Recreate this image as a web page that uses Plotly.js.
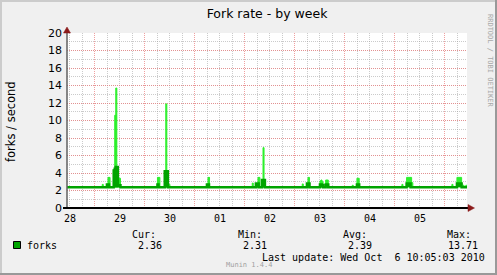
<!DOCTYPE html>
<html>
<head>
<meta charset="utf-8">
<script src="https://cdn.plot.ly/plotly-3.0.1.min.js"></script>
<style>html,body{margin:0;padding:0;background:#f0f0f0;}#chart{width:497px;height:275px;}</style>
</head>
<body>
<div id="chart"></div>
<script>
// ---- data ----
const rangeStart = '2010-09-28 10:35';
const rangeEnd = '2010-10-06 10:35';
const baseline = 2.36;
const spikeStart = [
  '2010-09-29 03:30','2010-09-29 05:45','2010-09-29 06:15','2010-09-29 06:45',
  '2010-09-29 09:00','2010-09-29 09:30','2010-09-29 10:00','2010-09-29 10:30','2010-09-29 11:00',
  '2010-09-30 06:00','2010-09-30 06:30',
  '2010-09-30 09:30','2010-09-30 10:00','2010-09-30 10:30','2010-09-30 11:00',
  '2010-10-01 05:45','2010-10-01 06:15','2010-10-01 06:45',
  '2010-10-02 03:30','2010-10-02 05:15','2010-10-02 06:15','2010-10-02 06:35',
  '2010-10-02 08:10','2010-10-02 08:40','2010-10-02 09:10',
  '2010-10-03 03:30','2010-10-03 05:45','2010-10-03 06:15',
  '2010-10-03 12:00','2010-10-03 12:30','2010-10-03 13:00','2010-10-03 14:45',
  '2010-10-04 03:30','2010-10-04 05:45',
  '2010-10-05 03:20','2010-10-05 05:35','2010-10-05 07:30','2010-10-05 08:10',
  '2010-10-06 03:20','2010-10-06 05:45','2010-10-06 08:40','2010-10-06 10:00'
];
const spikeEnd = [
  '2010-09-29 04:00','2010-09-29 06:15','2010-09-29 06:45','2010-09-29 07:15',
  '2010-09-29 09:30','2010-09-29 10:00','2010-09-29 10:30','2010-09-29 11:00','2010-09-29 12:15',
  '2010-09-30 06:30','2010-09-30 07:10',
  '2010-09-30 10:00','2010-09-30 10:30','2010-09-30 11:00','2010-09-30 12:00',
  '2010-10-01 06:15','2010-10-01 06:45','2010-10-01 07:00',
  '2010-10-02 04:00','2010-10-02 06:15','2010-10-02 06:35','2010-10-02 07:10',
  '2010-10-02 08:40','2010-10-02 09:10','2010-10-02 09:35',
  '2010-10-03 04:00','2010-10-03 06:15','2010-10-03 07:00',
  '2010-10-03 12:30','2010-10-03 13:00','2010-10-03 13:30','2010-10-03 16:00',
  '2010-10-04 04:00','2010-10-04 06:50',
  '2010-10-05 03:50','2010-10-05 07:30','2010-10-05 08:00','2010-10-05 08:35',
  '2010-10-06 03:50','2010-10-06 08:00','2010-10-06 09:10','2010-10-06 10:30'
];
const spikeMax = [
  2.7, 2.7, 3.5, 3.5,
  4.4, 10.6, 13.71, 4.7, 3.4,
  3.5, 3.5,
  4.2, 11.9, 4.2, 2.7,
  2.7, 3.5, 3.5,
  2.85, 2.8, 3.5, 3.5,
  3.2, 6.9, 3.2,
  2.75, 2.8, 3.5,
  3.1, 3.2, 3.0, 3.2,
  2.6, 3.4,
  2.7, 3.5, 3.5, 2.9,
  2.7, 3.5, 2.6, 2.6
];
const spikeAvg = [
  2.36, 2.7, 2.7, 2.36,
  4.3, 4.5, 4.7, 4.7, 2.6,
  2.7, 2.36,
  4.2, 4.2, 4.2, 2.36,
  2.7, 2.7, 2.36,
  2.36, 2.8, 2.8, 2.36,
  3.2, 3.2, 3.2,
  2.36, 2.8, 2.8,
  2.7, 2.7, 2.6, 2.7,
  2.36, 2.7,
  2.36, 2.8, 2.36, 2.36,
  2.36, 2.8, 2.36, 2.36
];
const xTickFormat = '%d';
const yTicks = [0,2,4,6,8,10,12,14,16,18,20];
const legendName = 'forks';
const legendHeads = ['Cur:','Min:','Avg:','Max:'];
const legendValues = ['2.36','2.31','2.39','13.71'];
const titleText = 'Fork rate - by week';
const yTitleText = 'forks / second';
const lastUpdate = 'Last update: Wed Oct \u00a06 10:05:03 2010';
const footerText = 'Munin 1.4.4';
const watermarkText = 'RRDTOOL / TOBI OETIKER';

// ---- build step series ----
function buildStep(vals) {
  const xs = [rangeStart], ys = [baseline];
  for (let i = 0; i < spikeStart.length; i++) {
    xs.push(spikeStart[i]); ys.push(vals[i]);
    xs.push(spikeEnd[i]); ys.push(baseline);
  }
  xs.push(rangeEnd); ys.push(baseline);
  return {xs, ys};
}
const mx = buildStep(spikeMax);
const av = buildStep(spikeAvg);

const DARK = '#00a400';
const BRIGHT = '#2cf02c';

const traces = [
  {x: mx.xs, y: mx.ys, type: 'scatter', mode: 'lines', line: {shape: 'hv', width: 1, color: BRIGHT},
   fill: 'toself', fillcolor: BRIGHT, hoverinfo: 'skip', showlegend: false},
  {x: av.xs, y: av.ys, type: 'scatter', mode: 'lines', line: {shape: 'hv', width: 2.5, color: DARK},
   fill: 'toself', fillcolor: DARK, hoverinfo: 'skip', showlegend: false}
];

// pixel helpers (plot area: x 67..467, y 33..208)
const L = 67, R = 467, T = 33, B = 208;
const PX = p => (p - L) / (R - L);
const PY = p => (B - p) / (B - T);

const mono = 'DejaVu Sans Mono';
const sans = 'DejaVu Sans';
const annotations = [];
function txt(text, x, y, opts) {
  annotations.push(Object.assign({text: text, x: PX(x), y: PY(y), xref: 'paper', yref: 'paper',
    showarrow: false, xanchor: 'left', yanchor: 'middle', borderpad: 0,
    font: {family: mono, size: 10, color: '#000'}}, opts || {}));
}
const headX = [131, 236.5, 342, 446];
const valX = [137, 242, 347, 447];
legendHeads.forEach((h, i) => txt(h, headX[i], 234));
legendValues.forEach((v, i) => txt(v, valX[i], 245.5));
txt(legendName, 26, 245.5);
txt(lastUpdate, 261, 257);
txt(footerText, 248.5, 264.5, {xanchor: 'center', font: {family: mono, size: 7, color: '#a0a0a0'}});
txt(watermarkText, 490, 61, {xanchor: 'center', textangle: 90, font: {family: mono, size: 7, color: '#a8a8a8'}});
txt(yTitleText, 11, 121, {xanchor: 'center', textangle: -90, font: {family: sans, size: 11.5, color: '#000'}});

const shapes = [
  // frame
  {type: 'line', xref: 'paper', yref: 'paper', x0: PX(0), x1: PX(497), y0: PY(1), y1: PY(1), line: {color: '#cccccc', width: 2}},
  {type: 'line', xref: 'paper', yref: 'paper', x0: PX(1), x1: PX(1), y0: PY(0), y1: PY(275), line: {color: '#cccccc', width: 2}},
  {type: 'line', xref: 'paper', yref: 'paper', x0: PX(0), x1: PX(497), y0: PY(274), y1: PY(274), line: {color: '#999999', width: 2}},
  {type: 'line', xref: 'paper', yref: 'paper', x0: PX(496), x1: PX(496), y0: PY(0), y1: PY(275), line: {color: '#999999', width: 2}},
  // y axis line
  {type: 'line', xref: 'paper', yref: 'paper', x0: PX(67), x1: PX(67), y0: PY(209), y1: PY(30), line: {color: '#606060', width: 1.5}},
  // x axis (zero) line
  {type: 'line', xref: 'paper', yref: 'paper', x0: PX(63), x1: PX(470), y0: PY(208), y1: PY(208), line: {color: '#000000', width: 2}},
  // arrows
  {type: 'path', xref: 'paper', yref: 'paper', path: 'M ' + PX(63.5) + ' ' + PY(33) + ' L ' + PX(67) + ' ' + PY(27) + ' L ' + PX(70.5) + ' ' + PY(33) + ' Z',
   fillcolor: '#8b1a1a', line: {color: '#8b1a1a', width: 0.5}},
  {type: 'path', xref: 'paper', yref: 'paper', path: 'M ' + PX(468) + ' ' + PY(204.5) + ' L ' + PX(474.5) + ' ' + PY(208) + ' L ' + PX(468) + ' ' + PY(211.5) + ' Z',
   fillcolor: '#8b1a1a', line: {color: '#8b1a1a', width: 0.5}},
  // legend colour box
  {type: 'rect', xref: 'paper', yref: 'paper', x0: PX(13.5), x1: PX(20.5), y0: PY(241.5), y1: PY(248.5),
   fillcolor: DARK, line: {color: '#000', width: 1}}
];

const MAJ = 'rgba(235,120,120,0.7)';
const MIN = 'rgba(160,160,160,0.55)';

const layout = {
  width: 497, height: 275,
  margin: {l: L, r: 497 - R, t: T, b: 275 - B, pad: 0},
  paper_bgcolor: '#f0f0f0', plot_bgcolor: '#ffffff',
  showlegend: false,
  title: {text: titleText, x: 0.5, xref: 'paper', xanchor: 'center', y: 1 - 14 / 275, yanchor: 'middle', yref: 'container',
          font: {family: sans, size: 12.5, color: '#000'}},
  xaxis: {
    type: 'date', range: [rangeStart, rangeEnd], fixedrange: true,
    tick0: '2010-09-29 00:00', dtick: 86400000, tickformat: xTickFormat, ticklabelmode: 'period',
    showgrid: true, gridcolor: MAJ, griddash: '1px,1px', gridwidth: 1,
    minor: {dtick: 6 * 3600000, tick0: '2010-09-29 00:00', showgrid: true, gridcolor: MIN, griddash: '1px,1px', gridwidth: 1},
    showline: false, zeroline: false, ticks: '', ticklabelstandoff: 3,
    tickfont: {family: mono, size: 10, color: '#000'}
  },
  yaxis: {
    range: [0, 20], fixedrange: true, tickmode: 'array', tickvals: yTicks, ticktext: yTicks.map(String),
    showgrid: true, gridcolor: MAJ, griddash: '1px,1px', gridwidth: 1,
    minor: {dtick: 1, showgrid: true, gridcolor: MIN, griddash: '1px,1px', gridwidth: 1},
    showline: false, zeroline: false, ticks: '', ticklabelstandoff: 4,
    tickfont: {family: sans, size: 11, color: '#000'}
  },
  shapes: shapes,
  annotations: annotations
};

Plotly.newPlot('chart', traces, layout, {displayModeBar: false, staticPlot: true});
</script>
</body>
</html>
